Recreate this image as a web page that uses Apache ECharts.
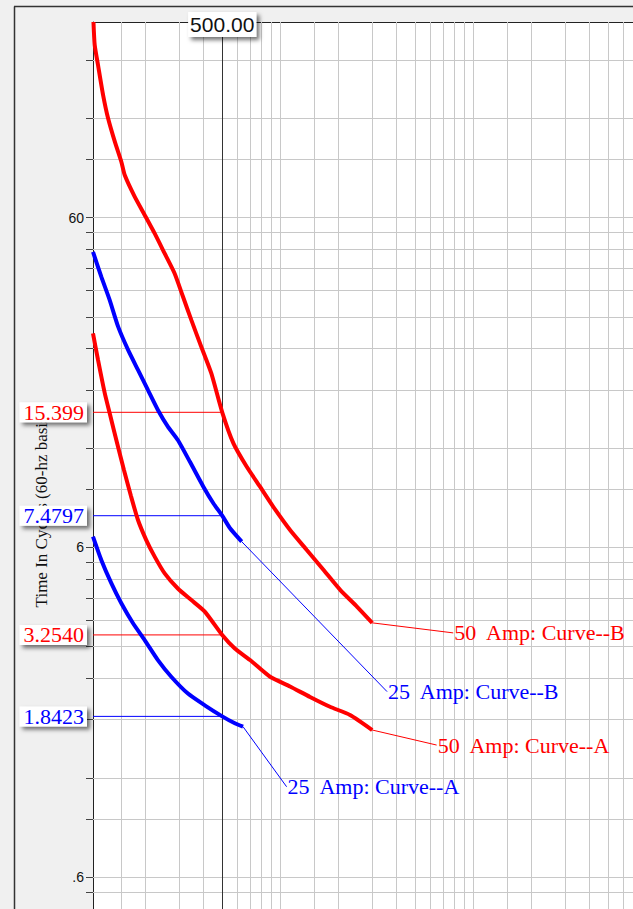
<!DOCTYPE html>
<html><head><meta charset="utf-8">
<script src="https://cdn.jsdelivr.net/npm/echarts@6/dist/echarts.min.js"></script>
<style>html,body{margin:0;padding:0;background:#f0f0f0;overflow:hidden}#c{width:633px;height:909px}</style>
</head><body><div id="c"></div>
<script>
// ---- grid / tick values ----
const xGrid = [150, 200, 300, 400, 500, 600, 700, 800, 900, 1000, 1500, 2000, 3000, 4000, 5000, 6000, 7000, 8000, 9000, 10000, 15000, 20000, 30000, 40000, 50000, 60000];
const yGrid = [0.54, 0.6, 0.9, 1.2, 1.8, 2.4, 3, 3.6, 4.2, 4.8, 5.4, 6, 9, 12, 18, 24, 30, 36, 42, 48, 54, 60, 90, 120, 180];
const yTickLabels = [0.6, 6, 60];
const yAxisTitle = 'Time In Cycles (60-hz basis)';

// ---- marker (500 A) ----
const markerX = 500;
const markerValues = [15.399, 7.4797, 3.2540, 1.8423];
const markerLabels = ['15.399', '7.4797', '3.2540', '1.8423'];
const markerColors = ['#ff0000', '#0000ff', '#ff0000', '#0000ff'];

// ---- curves ----
const amp50B_current = [107.6, 109.2, 113.6, 120.7, 128.0, 138.8, 150.0, 156.2, 175.9, 198.2, 223.3, 251.6, 283.4, 313.2, 346.0, 389.8, 439.1, 500, 571.5, 670.0, 784.9, 919.6, 1123, 1371, 1676, 2047, 2500, 2993];
const amp50B_time    = [235, 200.1, 174.1, 141.1, 120.2, 101.9, 88.6, 80.7, 69.4, 61.1, 53.7, 46.7, 40.6, 34.5, 29.3, 24.3, 20.2, 15.399, 12.4, 10.53, 9.16, 7.96, 6.77, 5.89, 5.12, 4.45, 3.96, 3.54];

const amp25B_current = [107, 118.1, 130.6, 144.4, 162.6, 183.0, 206.0, 232.1, 261.4, 294.4, 340.1, 399.2, 449.6, 500, 548.8, 630.8];
const amp25B_time    = [47.2, 39.7, 33.7, 28.0, 23.8, 20.7, 18.0, 15.65, 13.93, 12.69, 10.90, 9.16, 8.16, 7.4797, 6.85, 6.24];

const amp50A_current = [107, 113.6, 123.1, 130.6, 142.6, 154.8, 168.3, 183.0, 202.0, 223.3, 251.6, 294.4, 346.0, 406.0, 500, 581.2, 697.0, 884.4, 1123, 1425, 1809, 2296, 2993];
const amp50A_time    = [26.7, 22.2, 17.6, 15.29, 12.43, 10.29, 8.58, 7.26, 6.31, 5.62, 5.00, 4.50, 4.15, 3.83, 3.254, 2.96, 2.73, 2.43, 2.27, 2.11, 1.97, 1.86, 1.675];

const amp25A_current = [107, 118.1, 133.1, 150.0, 172.5, 198.2, 232.1, 272.2, 332.1, 406.0, 500, 581.2, 641.0];
const amp25A_time    = [6.46, 5.49, 4.67, 4.06, 3.53, 3.14, 2.73, 2.43, 2.16, 1.99, 1.8423, 1.755, 1.714];

// ---- leader lines to curve names ----
const curveNames = ['50\u00a0 Amp: Curve--B', '25\u00a0 Amp: Curve--B', '50\u00a0 Amp: Curve--A', '25\u00a0 Amp: Curve--A'];
const lead50B_current = [2993, 7869];  const lead50B_time = [3.54, 3.30];
const lead25B_current = [630.8, 3573]; const lead25B_time = [6.24, 2.19];
const lead50A_current = [2993, 6455];  const lead50A_time = [1.675, 1.508];
const lead25A_current = [641.0, 1078]; const lead25A_time = [1.714, 1.127];

// ---- build ----
const XMIN = 107, XMAX = 67200, YMIN = 0.48, YMAX = 235;
const RED = '#ff0000', BLUE = '#0000ff';
const serif = '"Liberation Serif", "Times New Roman", serif';
const sans = '"Liberation Sans", Arial, sans-serif';
const zip = (xs, ys) => xs.map((x, i) => [x, ys[i]]);

function curve(name, xs, ys, color) {
  return { name, type: 'line', data: zip(xs, ys), showSymbol: false, symbol: 'none', z: 3, smooth: 0.2,
    lineStyle: { color, width: 4 }, itemStyle: { color }, animation: false, silent: true };
}
function leader(name, xs, ys, color) {
  return { name, type: 'line', data: zip(xs, ys), showSymbol: false, symbol: 'none', z: 3,
    lineStyle: { color, width: 1 }, itemStyle: { color }, animation: false, silent: true,
    endLabel: { show: true, formatter: name, color, fontFamily: serif, fontSize: 22, distance: 1 } };
}
function valueLine(i) {
  const v = markerValues[i], c = markerColors[i];
  return { name: 'value ' + markerLabels[i], type: 'line', z: 2, silent: true, animation: false,
    data: [[XMIN, v], [markerX, v]], showSymbol: false, symbol: 'none',
    lineStyle: { color: c, width: 1, type: 'solid' }, itemStyle: { color: c },
    markPoint: { silent: true, z: 6, animation: false, symbol: 'circle', symbolSize: 0,
      data: [{ coord: [XMIN, v], value: v }],
      label: { show: true, position: 'left', distance: 6, formatter: markerLabels[i], color: c,
        fontFamily: serif, fontSize: 22, lineHeight: 20, padding: [0, 3, 0, 4], backgroundColor: '#ffffff',
        shadowColor: 'rgba(0,0,0,0.55)', shadowBlur: 4, shadowOffsetX: 3, shadowOffsetY: 3 } } };
}

const gridMarks = xGrid.map(v => ({ xAxis: v })).concat(yGrid.map(v => ({ yAxis: v })));

const option = {
  animation: false,
  backgroundColor: '#f0f0f0',
  grid: { left: 93, top: 22, right: 0, bottom: 0, show: true, backgroundColor: '#ffffff', borderWidth: 0, containLabel: false },
  xAxis: { type: 'log', logBase: 10, min: XMIN, max: XMAX, position: 'top',
    axisLine: { show: true, lineStyle: { color: '#222', width: 1 } },
    axisTick: { show: false }, axisLabel: { show: false }, splitLine: { show: false }, minorTick: { show: false } },
  yAxis: { type: 'log', logBase: 10, min: YMIN, max: YMAX,
    axisLine: { show: true, lineStyle: { color: '#222', width: 1 } },
    axisTick: { show: true, length: 7, customValues: yGrid, lineStyle: { color: '#444' } },
    axisLabel: { show: true, customValues: yTickLabels, margin: 9, color: '#111', fontFamily: sans, fontSize: 14,
      formatter: v => { const s = String(Number(v.toPrecision(6))); return s.replace(/^0\./, '.'); } },
    splitLine: { show: false }, minorTick: { show: false } },
  graphic: [
    { type: 'line', z: -10, shape: { x1: 14.5, y1: 6.5, x2: 14.5, y2: 909 }, style: { stroke: '#333', lineWidth: 1.5 } },
    { type: 'line', z: -10, shape: { x1: 14, y1: 6.5, x2: 633, y2: 6.5 }, style: { stroke: '#333', lineWidth: 1.5 } },
    { type: 'text', z: 0, x: 41, y: 509, rotation: Math.PI / 2,
      style: { text: yAxisTitle, fill: '#111', font: '17px ' + serif, align: 'center', verticalAlign: 'middle' } }
  ],
  series: [
    { name: 'grid', type: 'line', data: [], silent: true, animation: false,
      markLine: { silent: true, z: 1, symbol: ['none', 'none'], animation: false, label: { show: false },
        lineStyle: { color: '#c8c8c8', width: 1, type: 'solid' }, data: gridMarks } },
    { name: 'marker', type: 'line', data: [], silent: true, animation: false,
      markLine: { silent: true, z: 2, symbol: ['none', 'none'], animation: false,
        label: { show: false }, lineStyle: { color: '#333', width: 1, type: 'solid' },
        data: [{ xAxis: markerX }] },
      markPoint: { silent: true, z: 6, animation: false, symbol: 'circle', symbolSize: 0,
        data: [{ coord: [markerX, YMAX], value: markerX }],
        label: { show: true, position: 'inside', offset: [0, 2.5], formatter: markerX.toFixed(2), color: '#111',
          fontFamily: sans, fontSize: 21, lineHeight: 23, padding: [1, 2, 1, 2], backgroundColor: '#ffffff',
          shadowColor: 'rgba(0,0,0,0.55)', shadowBlur: 4, shadowOffsetX: 3, shadowOffsetY: 3 } } },
    valueLine(0), valueLine(1), valueLine(2), valueLine(3),
    curve('50 Amp B', amp50B_current, amp50B_time, RED),
    curve('25 Amp B', amp25B_current, amp25B_time, BLUE),
    curve('50 Amp A', amp50A_current, amp50A_time, RED),
    curve('25 Amp A', amp25A_current, amp25A_time, BLUE),
    leader(curveNames[0], lead50B_current, lead50B_time, RED),
    leader(curveNames[1], lead25B_current, lead25B_time, BLUE),
    leader(curveNames[2], lead50A_current, lead50A_time, RED),
    leader(curveNames[3], lead25A_current, lead25A_time, BLUE)
  ]
};
const chart = echarts.init(document.getElementById('c'), null, { renderer: 'svg', width: 633, height: 909 });
chart.setOption(option);
</script>
</body></html>
